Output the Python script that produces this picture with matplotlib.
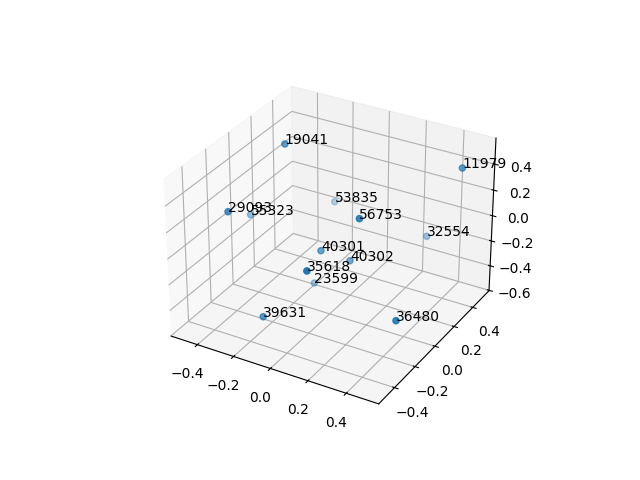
import matplotlib
matplotlib.use("Agg")
import matplotlib.pyplot as plt

labels = ["19041", "29093", "55323", "53835", "11979", "56753", "32554",
          "40301", "40302", "35618", "23599", "39631", "36480"]
x = [-0.256, -0.331, -0.508, -0.287, 0.486, 0.261, 0.224,
     -0.022, 0.073, 0.18, -0.195, -0.107, 0.518]
y = [0.028, -0.359, 0.113, 0.553, 0.397, -0.186, 0.569,
     -0.044, 0.066, -0.518, 0.189, -0.432, -0.304]
z = [0.598, 0.316, -0.103, -0.211, 0.459, 0.384, -0.297,
     -0.077, -0.195, 0.2, -0.581, -0.34, -0.186]

fig = plt.figure()
ax = fig.add_subplot(111, projection="3d")

ax.scatter(x, y, z)
for i, label in enumerate(labels):
    ax.text(x[i], y[i], z[i], label)

ax.set_xlim(-0.548, 0.567)
ax.set_ylim(-0.55, 0.58)
ax.set_zlim(-0.603, 0.598)

fig.savefig("out.png")
